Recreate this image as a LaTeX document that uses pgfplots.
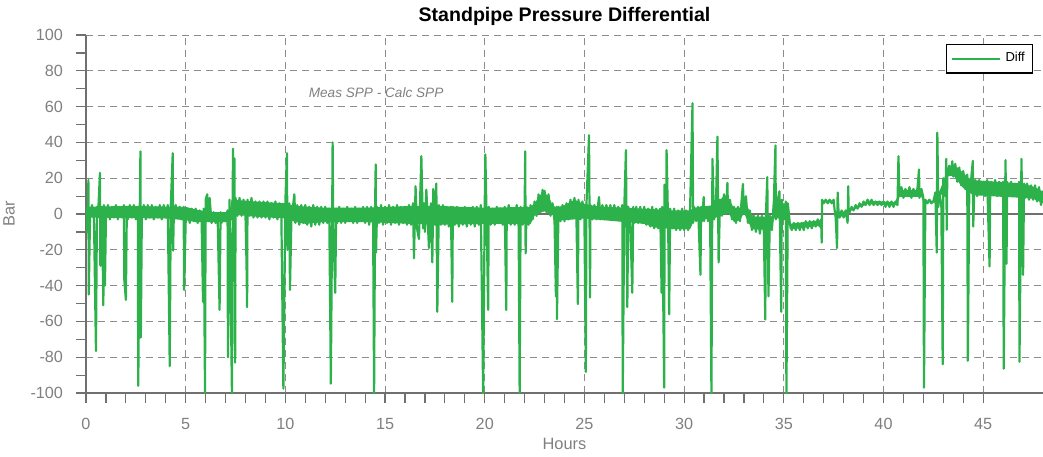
\documentclass[border=0pt]{standalone}
\usepackage{fontspec}
\setmainfont{Liberation Sans}
\usepackage{pgfplots}
\pgfplotsset{compat=1.18}
\definecolor{diffgreen}{RGB}{45,178,75}
\definecolor{axgray}{RGB}{112,112,112}
\definecolor{txtgray}{RGB}{128,128,128}
\definecolor{gridgray}{RGB}{140,140,140}
\begin{document}
\begin{tikzpicture}
\begin{axis}[
 name=ax,
 width=478.5pt, height=179pt, scale only axis,
 xmin=0, xmax=48, ymin=-100, ymax=100,
 axis lines*=left,
 axis line style={axgray, line width=0.8pt},
 xtick={0,5,...,45}, minor x tick num=4,
 ytick={-100,-80,...,100}, minor y tick num=1,
 tick align=outside, major tick length=5pt, minor tick length=5pt,
 tick style={axgray, line width=0.6pt},
 grid=major, major grid style={gridgray, dash pattern=on 3.5pt off 2.5pt, line width=0.5pt},
 ticklabel style={font=\fontsize{8.1}{9}\selectfont, text=txtgray},
 xticklabel style={yshift=-4pt},
 yticklabel style={xshift=-3pt},
 /pgf/number format/assume math mode=true,
 xlabel={Hours}, ylabel={Bar},
 label style={font=\fontsize{8.2}{9}\selectfont, text=txtgray},
 xlabel style={yshift=2.5pt},
 ylabel style={yshift=-4pt},
 title={Standpipe Pressure Differential},
 title style={font=\fontsize{9.8}{11}\selectfont\bfseries, yshift=-5pt},
 legend style={at={(rel axis cs:0.99,0.975)}, anchor=north east, draw=black, line width=0.6pt, font=\fontsize{6.5}{7}\selectfont, inner sep=2pt},
 legend cell align=left,
 legend image code/.code={\draw[#1, line width=1.2pt] (0cm,0cm) -- (0.85cm,0cm);},
 extra y ticks={0}, extra y tick labels={},
 extra y tick style={grid=major, major grid style={axgray, solid, line width=0.8pt}, major tick length=0pt},
]
% band envelope: upper edge left to right, then lower edge right to left
\addplot[fill=diffgreen, draw=none, forget plot] coordinates {
(0,4)(2,4.5)(5,4)(5.5,2.5)(6.3,1)(7.2,1)(7.3,8)(8.5,7)(10,6)(10.5,4.5)(12,3.5)(14,3.5)(16.3,4.5)(17.7,4.5)(20,3.5)(22.3,4)(22.5,6)(22.9,12.5)(23.2,10)(23.4,5)(23.6,3.5)(24,5)(24.5,8)(24.9,6)(25.5,4.5)(27,3.5)(28,3)(29.5,2)(30.3,2)(30.5,3.5)(31.5,5)(32,10)(32.3,7)(32.5,3.5)(32.8,3.5)(33,9)(33.3,1)(33.5,-1.5)(34.4,-1.5)(34.5,6)(35.2,6)(35.3,-5.5)(36.8,-3.5)(36.9,-3.5)(36.92,7.5)(37.5,7.5)(37.55,1.5)(38.2,1.5)(38.3,1.5)(39.2,7.5)(40.6,6.5)(40.8,13.5)(41.9,13.5)(42,7.5)(42.6,7.5)(43,18)(43.3,26)(43.6,27)(44,23)(44.4,19)(47,17)(47.6,15)(48,12.5)
(48,6)(47.5,8.5)(47,9)(44.5,10.5)(44,14.5)(43.5,21.5)(43.2,21)(43,12)(42.6,6.5)(42,6.5)(41.9,9.5)(40.8,9.5)(40.7,5)(39.2,5.5)(38.3,1.5)(38.2,-1.5)(37.6,-1.5)(37.5,6.5)(36.92,6.5)(36.9,-6.5)(35.3,-8.5)(35.2,-2.5)(34.5,-2.5)(34.4,-9)(33.4,-8.5)(33.2,-4)(33,0.5)(32.8,-3.5)(32.5,-4.5)(32.2,1)(32,0)(31.5,-2.5)(30.5,-3.5)(30.3,-8.5)(29.5,-8.5)(28.5,-7.5)(28,-5.5)(27,-4.5)(25,-2.5)(24,-3.5)(23.6,-3.5)(23.4,-0.5)(23,1.5)(22.8,1)(22.5,-1)(22.3,-5.5)(20,-5.5)(18,-6)(16.3,-5.5)(14,-4.5)(12,-4.5)(11,-5.5)(10.5,-4.5)(10,-2.5)(8.5,-1.5)(7.5,-0.5)(7.3,-3.5)(7.2,-4.5)(6.3,-4.5)(5.5,-4.5)(5,-3.5)(4,-2.5)(0,-2)
} --cycle;
\addplot[diffgreen, line width=1.1pt, line join=round] coordinates {
(0,2)(0.05,-10)(0.1,4)(0.12,19)(0.14,-45)(0.2,-2)(0.3,5)(0.4,-3)(0.5,-76.5)(0.55,4)(0.6,-2)(0.7,23)(0.72,-29)(0.8,4)(0.87,-51)(0.9,5)(0.95,-40)
(1.0,-2)(1.1,5)(1.2,-3)(1.3,4)(1.4,-2)(1.5,5)(1.6,-3)(1.7,4)(1.8,-2)(1.9,5)(1.92,-36.5)
(2.0,-48)(2.05,4)(2.1,-3)(2.2,5)(2.3,-2)(2.4,5)(2.5,-3)(2.6,4)(2.62,-96)(2.7,5)(2.73,35)(2.75,-69)(2.8,-2)(2.9,5)
(3.0,-3)(3.1,5)(3.2,-2)(3.3,5)(3.4,-3)(3.5,4)(3.6,-2)(3.7,5)(3.8,-3)(3.9,5)
(4.0,-2)(4.1,5)(4.2,-85)(4.25,4)(4.35,34)(4.37,-20.5)(4.4,-3)(4.5,5)(4.6,-2)(4.7,4)(4.8,-3)(4.9,4)(4.92,-42.4)
(5.0,-4)(5.1,3)(5.2,-5)(5.3,3)(5.4,-4)(5.5,3)(5.6,-5)(5.7,2)(5.8,-4)(5.87,-49)(5.9,3)(5.97,-100)
(6.0,8)(6.08,11)(6.15,-4)(6.2,9)(6.3,-5)(6.4,1)(6.5,-5)(6.6,0)(6.7,-53.6)(6.75,1)(6.8,-5)(6.9,0)
(7.0,-4)(7.1,2)(7.12,-80)(7.2,8)(7.32,-100.7)(7.37,36.5)(7.42,-2)(7.45,31)(7.48,-83)(7.5,9)(7.6,-1)(7.7,9)(7.8,-1)(7.9,8)
(8.0,-1)(8.05,-27)(8.08,-52)(8.1,8)(8.2,-1)(8.3,9)(8.4,-2)(8.5,7)(8.6,-2)(8.7,7)(8.8,-2)(8.9,7)
(9.0,-2)(9.1,7)(9.2,-3)(9.3,6)(9.4,-2)(9.5,7)(9.6,-3)(9.7,6)(9.8,-2)(9.9,-97.6)
(10.0,7)(10.08,34)(10.1,-20)(10.2,6)(10.23,-42.4)(10.3,-4)(10.4,6)(10.45,11)(10.5,-5)(10.6,5)(10.7,-6)(10.8,5)(10.9,-5)
(11.0,5)(11.1,-6)(11.2,4)(11.3,-7)(11.4,5)(11.5,-6)(11.6,4)(11.7,-6)(11.8,4)(11.9,-5)
(12.0,4)(12.1,-5)(12.2,3)(12.28,-94.8)(12.35,6)(12.37,40)(12.4,-5)(12.5,-44)(12.55,3)(12.6,-5)(12.7,4)(12.8,-5)(12.9,3)
(13.0,-5)(13.1,4)(13.2,-4)(13.3,3)(13.4,-5)(13.5,4)(13.6,-5)(13.7,3)(13.8,-4)(13.9,4)
(14.0,-5)(14.1,4)(14.2,-6)(14.3,4)(14.4,-5)(14.45,-100)(14.5,5)(14.53,27.7)(14.55,-21.5)(14.6,4)(14.7,-5)(14.8,5)(14.9,-6)
(15.0,4)(15.1,-5)(15.2,5)(15.3,-6)(15.4,4)(15.5,-5)(15.6,5)(15.7,-6)(15.8,4)(15.9,-5)
(16.0,4)(16.1,-6)(16.2,5)(16.3,-6)(16.4,6)(16.45,-24.7)(16.53,15.5)(16.6,-8)(16.7,-14)(16.75,5)(16.82,32.3)(16.9,-8)(16.95,6)
(17.0,-10)(17.07,13.6)(17.15,-6)(17.2,-19)(17.3,6)(17.37,-27)(17.42,14)(17.5,-6)(17.57,17)(17.62,-54.6)(17.7,5)(17.8,-6)(17.9,5)
(18.0,-6)(18.1,4)(18.2,-7)(18.3,4)(18.37,-49)(18.4,4)(18.5,-6)(18.6,4)(18.7,-7)(18.8,3)(18.9,-6)
(19.0,4)(19.1,-7)(19.2,3)(19.3,-6)(19.4,4)(19.5,-7)(19.6,4)(19.7,-6)(19.8,5)(19.92,-100.7)
(20.0,6)(20.03,33.3)(20.1,-6)(20.17,-53.6)(20.2,4)(20.3,-6)(20.4,3)(20.5,-6)(20.6,4)(20.7,-5)(20.8,3)(20.9,-6)
(21.0,4)(21.08,-53.6)(21.1,-5)(21.2,5)(21.3,-6)(21.4,3)(21.5,-6)(21.6,5)(21.7,-7)(21.75,-100)(21.8,4)(21.9,-6)
(22.0,5)(22.03,35)(22.05,-22)(22.1,4)(22.2,-6)(22.3,5)(22.4,-3)(22.5,7)(22.6,-1)(22.7,11)(22.8,1)(22.9,13.5)(22.95,2)
(23.0,13)(23.1,1)(23.2,11)(23.3,-1)(23.4,6)(23.5,-4)(23.57,-46)(23.6,4)(23.62,-58.7)(23.7,4)(23.8,-4)(23.9,5)
(24.0,-4)(24.1,6)(24.2,-3)(24.3,8)(24.4,-2)(24.5,9)(24.6,-3)(24.67,-50.3)(24.7,8)(24.8,-3)(24.9,7)
(25.0,-3)(25.07,-88.2)(25.1,5)(25.23,44)(25.28,-46.7)(25.3,5)(25.4,-3)(25.5,5)(25.6,-3)(25.73,9.5)(25.8,-3)(25.9,5)
(26.0,-3)(26.1,5)(26.2,-2)(26.3,5)(26.4,-3)(26.5,5)(26.6,-3)(26.7,4)(26.8,-3)(26.9,5)(26.92,-100.7)
(27.0,4)(27.08,35.7)(27.15,-52)(27.2,4)(27.3,-5)(27.4,-44)(27.45,4)(27.5,-5)(27.6,4)(27.7,-5)(27.8,4)(27.9,-5)
(28.0,4)(28.1,-6)(28.2,3)(28.3,-7)(28.4,4)(28.5,-8)(28.6,3)(28.7,-8)(28.8,3)(28.87,-44)(28.9,4)
(29.0,-97)(29.02,16.4)(29.1,-7)(29.12,35.7)(29.2,-8)(29.25,-56)(29.3,3)(29.4,-8)(29.5,3)(29.6,-9)(29.7,2)(29.8,-9)(29.9,3)
(30.0,-9)(30.1,2)(30.2,-9)(30.3,3)(30.42,61.9)(30.45,-5)(30.5,4)(30.6,-4)(30.7,4)(30.82,-34)(30.85,4)(30.9,-4)(30.98,9.5)
(31.0,-4)(31.1,4)(31.2,-4)(31.3,4)(31.37,-100.7)(31.42,30.8)(31.5,-3)(31.6,6)(31.67,43.2)(31.73,-27)(31.8,8)(31.9,-1)
(32.0,11)(32.1,0)(32.17,17.4)(32.2,1)(32.3,8)(32.4,-3)(32.5,4)(32.6,-5)(32.7,4)(32.8,-4)(32.9,10)(32.95,16.8)
(33.0,0)(33.1,10)(33.2,-5)(33.3,2)(33.4,-9)(33.5,-1)(33.6,-10)(33.7,-1)(33.8,-11)(33.9,-1)
(34.0,-10)(34.07,-58.9)(34.1,-1)(34.17,20.6)(34.23,-46)(34.3,-1)(34.4,-9)(34.5,7)(34.58,38.3)(34.6,-3)(34.7,8)(34.78,12.7)(34.8,-3)(34.87,-54.6)(34.9,8)
(35.0,-3)(35.1,7)(35.13,-100.7)(35.2,6)(35.3,-5)(35.4,-9)(35.5,-5)(35.6,-9)(35.7,-5)(35.8,-9)(35.9,-5)
(36.0,-9)(36.1,-4)(36.2,-8)(36.3,-4)(36.4,-8)(36.5,-4)(36.6,-7)(36.7,-3)(36.8,-7)(36.87,-3)(36.9,-16)(36.92,8)
(37.0,6)(37.1,8)(37.2,6)(37.3,8)(37.4,6)(37.5,8)(37.55,2)(37.6,-2)(37.67,-19)(37.7,12)(37.75,0)(37.8,-2)(37.9,2)
(38.0,-2)(38.1,2)(38.2,-5)(38.23,15.5)(38.25,3)(38.3,1)(38.4,4)(38.5,2)(38.6,5)(38.7,3)(38.8,6)(38.9,4)
(39.0,7)(39.1,5)(39.2,8)(39.3,5)(39.4,8)(39.5,5)(39.6,7)(39.7,5)(39.8,7)(39.9,5)
(40.0,7)(40.1,4)(40.2,7)(40.3,4)(40.4,7)(40.5,4)(40.6,7)(40.7,5)(40.75,32.3)(40.8,10)(40.9,15)
(41.0,9)(41.1,14)(41.2,10)(41.3,15)(41.4,9)(41.5,14)(41.6,10)(41.7,14)(41.78,24.9)(41.8,9)(41.9,14)
(42.0,9)(42.03,-97)(42.1,8)(42.2,6)(42.3,8)(42.4,6)(42.5,7)(42.6,12)(42.67,-21.5)(42.7,45.4)(42.75,4)(42.8,12)(42.9,5)(42.97,-84)
(43.0,20)(43.1,10)(43.15,30.8)(43.17,-8.8)(43.2,22)(43.3,27)(43.4,22)(43.45,29.5)(43.5,21)(43.6,28)(43.7,18)(43.8,26)(43.9,16)
(44.0,24)(44.1,14)(44.2,22)(44.23,-82)(44.3,12)(44.4,20)(44.48,29.7)(44.5,-7)(44.55,12)(44.6,19)(44.7,10)(44.8,19)(44.9,11)
(45.0,18)(45.1,10)(45.2,19)(45.32,-29.3)(45.35,10)(45.4,18)(45.5,11)(45.6,19)(45.7,10)(45.8,18)(45.9,10)
(46.0,18)(46.03,-86.4)(46.1,10)(46.12,30.1)(46.17,-27.8)(46.2,18)(46.3,10)(46.4,18)(46.5,11)(46.6,17)(46.7,10)(46.8,18)(46.82,-82.6)(46.9,10)(46.92,30.8)
(47.0,-34)(47.05,17)(47.1,9)(47.2,17)(47.3,8)(47.4,16)(47.5,8)(47.6,16)(47.7,7)(47.8,15)(47.9,5)(48.0,13)
};
\addlegendentry{Diff}
\node[font=\fontsize{6.8}{8}\selectfont\itshape, text=txtgray] at (axis cs:14.55,67.6) {Meas SPP - Calc SPP};
\end{axis}
\pgfresetboundingbox
\path[use as bounding box] ([shift={(-43pt,-31.5pt)}]ax.south west) rectangle ([shift={(0pt,17.5pt)}]ax.north east);
\end{tikzpicture}
\end{document}
